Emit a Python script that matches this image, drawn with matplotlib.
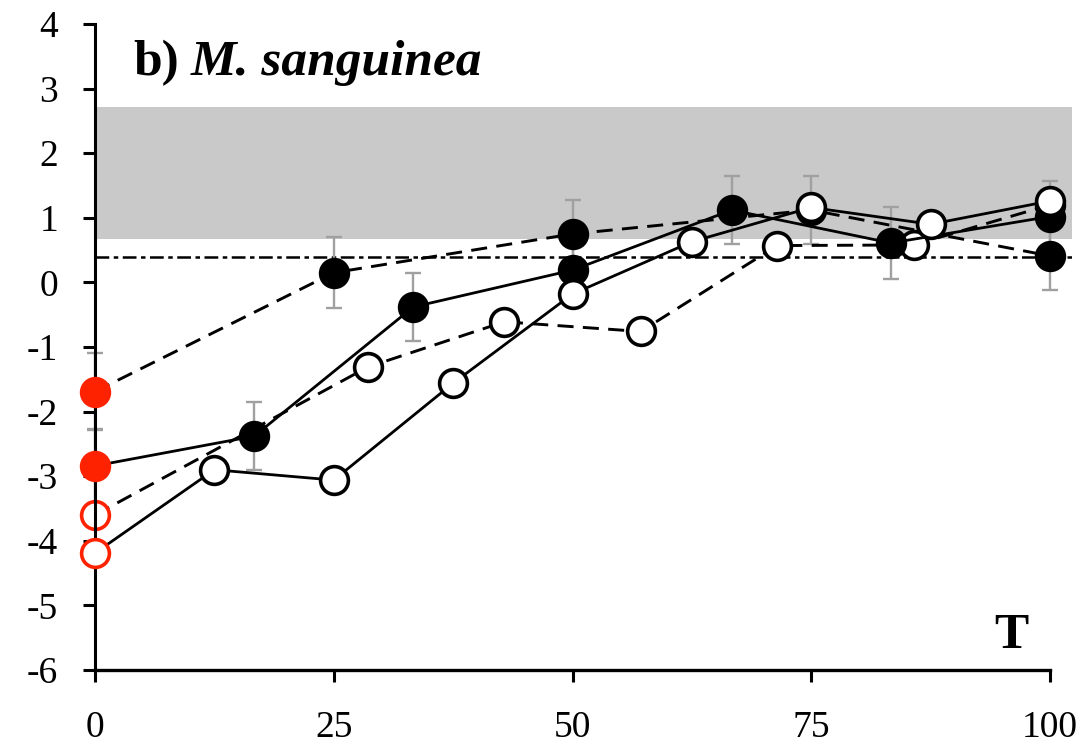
import matplotlib
matplotlib.use("Agg")
import matplotlib.pyplot as plt

plt.rcParams["font.family"] = ["Liberation Serif", "DejaVu Serif"]
plt.rcParams["axes.unicode_minus"] = False

# Series sampled at different step sizes of T (0..100)
x_fill_solid = [0, 16.67, 33.33, 50, 66.67, 83.33, 100]
y_fill_solid = [-2.84, -2.38, -0.38, 0.19, 1.12, 0.61, 1.02]
e_fill_solid = [0.57, 0.53, 0.53, 0.53, 0.53, 0.56, 0.55]

x_fill_dash = [0, 25, 50, 75, 100]
y_fill_dash = [-1.69, 0.15, 0.75, 1.12, 0.41]
e_fill_dash = [0.60, 0.55, 0.52, 0.52, 0.52]

x_open_solid = [0, 12.5, 25, 37.5, 50, 62.5, 75, 87.5, 100]
y_open_solid = [-4.19, -2.90, -3.06, -1.56, -0.18, 0.63, 1.16, 0.90, 1.26]

x_open_dash = [0, 28.57, 42.86, 57.14, 71.43, 85.71, 100]
y_open_dash = [-3.60, -1.31, -0.61, -0.76, 0.57, 0.58, 1.20]

band_low, band_high = 0.67, 2.71
ref_level = 0.39

x_ticks = [0, 25, 50, 75, 100]
y_ticks = [-6, -5, -4, -3, -2, -1, 0, 1, 2, 3, 4]

RED = "#ff2200"
MS = 20
MEW = 2.6
DASH = (0, (5.5, 3.2))

fig = plt.figure(figsize=(10.88, 7.44), dpi=100)
ax = fig.add_axes([95 / 1088, 74 / 744, 977 / 1088, 646 / 744])
ax.set_xlim(0, 102.3)
ax.set_ylim(-6, 4)

ax.axhspan(band_low, band_high, color="#c9c9c9", lw=0, zorder=0)
ax.axhline(ref_level, color="black", lw=1.8, ls=(0, (5.5, 1.8, 1.8, 1.8)), zorder=0.5)

# Error bars on the filled series
for xs, ys, es in [(x_fill_solid, y_fill_solid, e_fill_solid),
                   (x_fill_dash, y_fill_dash, e_fill_dash)]:
    eb = ax.errorbar(xs, ys, yerr=es, fmt="none", ecolor="#a0a0a0",
                     elinewidth=1.7, capsize=5.5, capthick=1.7, zorder=1)
    for art in eb.get_children():
        art.set_clip_on(False)


def draw_series(xs, ys, ls, filled, z, lw):
    face = "black" if filled else "white"
    ax.plot(xs, ys, color="black", lw=lw, ls=ls, zorder=z, clip_on=False)
    ax.plot(xs[1:], ys[1:], ls="none", marker="o", ms=MS, mfc=face,
            mec="black", mew=MEW, zorder=z, clip_on=False)
    ax.plot(xs[:1], ys[:1], ls="none", marker="o", ms=MS,
            mfc=RED if filled else "white", mec=RED, mew=MEW,
            zorder=z + 0.1, clip_on=False)


draw_series(x_open_dash, y_open_dash, DASH, False, 2, 2.1)
draw_series(x_fill_dash, y_fill_dash, DASH, True, 3, 2.1)
draw_series(x_fill_solid, y_fill_solid, "-", True, 4, 2.0)
draw_series(x_open_solid, y_open_solid, "-", False, 5, 2.0)

# Axes styling
for side in ("top", "right"):
    ax.spines[side].set_visible(False)
ax.spines["left"].set_linewidth(2.2)
ax.spines["bottom"].set_linewidth(2.4)
ax.spines["bottom"].set_bounds(0, 100)
ax.spines["left"].set_bounds(-6, 4)
ax.set_xticks(x_ticks)
ax.set_yticks(y_ticks)
ax.set_xticklabels([str(v) for v in x_ticks])
ax.set_yticklabels([str(v) for v in y_ticks])
ax.tick_params(axis="both", direction="out", length=8.5, width=2.2,
               labelsize=27, colors="black")
ax.tick_params(axis="x", pad=21)
ax.tick_params(axis="y", pad=18)

# Panel title: "b)" upright bold, species name bold italic
t1 = ax.text(4.0, 3.21, "b)", fontsize=37, fontweight="bold",
             ha="left", va="baseline")
fig.canvas.draw()
bb = t1.get_window_extent()
x_next = ax.transData.inverted().transform((bb.x1 + 12, bb.y0))[0]
ax.text(x_next, 3.21, "M. sanguinea", fontsize=37, fontweight="bold",
        fontstyle="italic", ha="left", va="baseline")

ax.text(95.9, -5.66, "T", fontsize=37, fontweight="bold",
        ha="center", va="baseline")

fig.savefig("out.png", dpi=100)
